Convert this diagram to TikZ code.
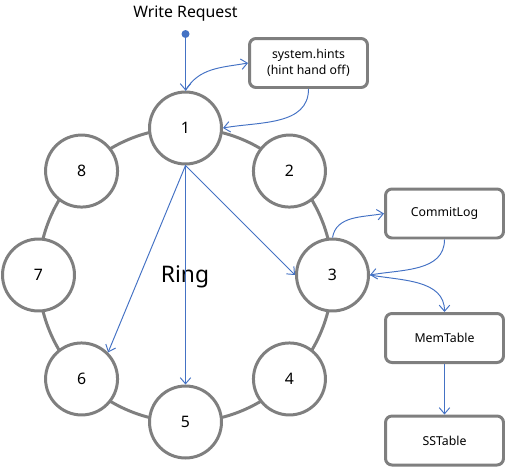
\documentclass[tikz,border=0pt]{standalone}
\usepackage{fontspec}
\setmainfont{Noto Sans}
\usetikzlibrary{positioning,arrows.meta}
\definecolor{ringgray}{RGB}{127,127,127}
\definecolor{flowblue}{RGB}{68,114,196}

\begin{document}
\begin{tikzpicture}[x=0.02cm, y=-0.02cm,
  server/.style={circle, draw=ringgray, line width=1.7pt, fill=white,
    minimum size=1.44cm, inner sep=0pt, font=\fontsize{9}{10}\selectfont},
  store/.style={rectangle, rounded corners=0.13cm, draw=ringgray, line width=1.7pt,
    fill=white, minimum width=2.36cm, minimum height=0.98cm, align=center,
    font=\fontsize{7}{9}\selectfont},
  flow/.style={draw=flowblue, line width=0.55pt, -{Straight Barb[length=3.5pt,width=6pt]}},
  reqdot/.style={circle, fill=flowblue, minimum size=0.16cm, inner sep=0pt}]
  \useasboundingbox (0,0) rectangle (506,467);

  % the ring and its eight servers
  \coordinate (ringc) at (185.5,275);
  \draw[ringgray, line width=1.7pt] (ringc) circle[radius=2.94cm];
  \foreach \i in {1,...,8}
    \node[server] (n\i) at ([shift={({(\i-3)*45}:147)}]ringc) {\i};
  \node[font=\fontsize{13}{15}\selectfont] (ring) at (185,277) {Ring};

  % request
  \node[reqdot] (req) at (185.5,34) {};
  \node[above=1pt of req, font=\fontsize{9}{11}\selectfont] (reqlabel) {Write Request};

  % storage side
  \node[store] (hints) at (308.5,63) {system.hints\\(hint hand off)};
  \node[store] (commit) at (444.5,213.5) {CommitLog};
  \node[store] (mem) at (444.5,338) {MemTable};
  \node[store] (ss) at (444.5,440.5) {SSTable};

  \draw[flow] (req) -- (n1);
  \draw[flow] (n1.north) to[out=60, in=190] (hints.west);
  \draw[flow] (hints.south) to[out=-90, in=10] (n1.east);
  \draw[flow] (n1.south) -- (n3.west);
  \draw[flow] (n1.south) -- (n5.north);
  \draw[flow] (n1.south) -- (n6.45);
  \draw[flow] (n3.north) to[out=80, in=190] (commit.west);
  \draw[flow] (commit.south) to[out=-90, in=10] (n3.east);
  \draw[flow] (n3.east) to[out=-10, in=90] (mem.north);
  \draw[flow] (mem) -- (ss);
\end{tikzpicture}
\end{document}
